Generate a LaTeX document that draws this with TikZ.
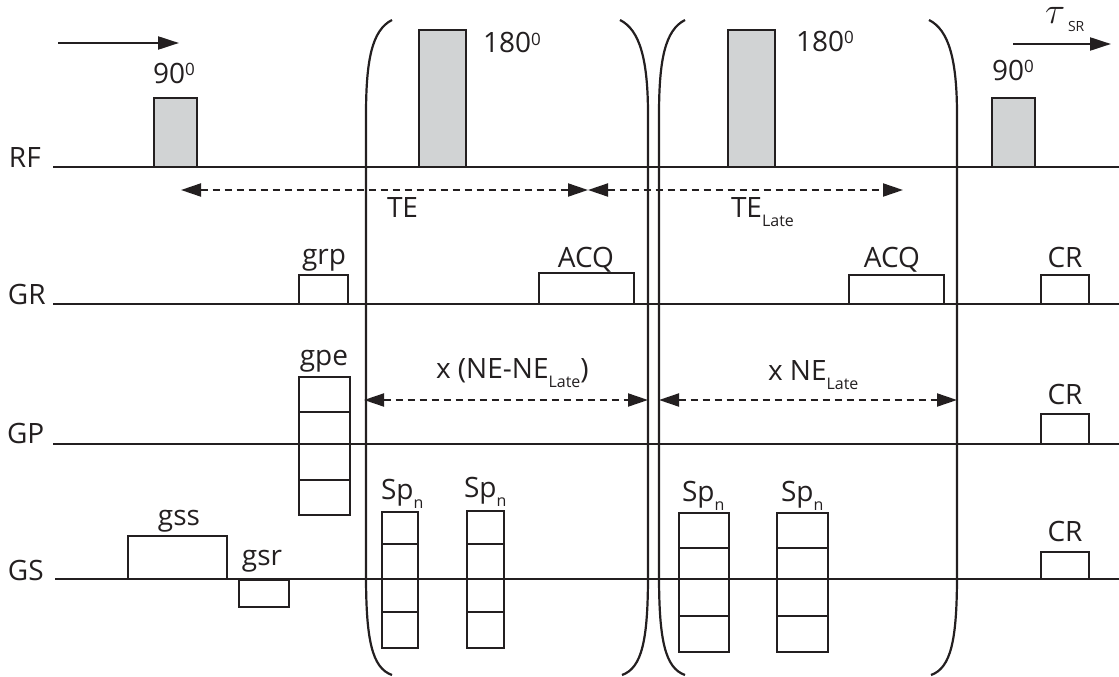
\documentclass[tikz,border=0pt]{standalone}
\usepackage{fontspec}
\setmainfont{Open Sans}
\usetikzlibrary{arrows.meta}
\definecolor{ink}{HTML}{231F20}
\definecolor{pgray}{HTML}{D1D3D4}
\newcommand\lowsub[1]{\raisebox{-9pt}{\fontsize{16}{16}\selectfont #1}}
\newcommand\degsup{\raisebox{8pt}{\fontsize{17}{17}\selectfont 0}}
\begin{document}
\begin{tikzpicture}[x=1pt,y=-1pt,
  every node/.style={inner sep=0pt, outer sep=0pt, text=ink, font=\fontsize{28}{32}\selectfont},
  baseline/.style={draw=ink, line width=2.3pt},
  pulse/.style={draw=ink, fill=pgray, line width=2.6pt, anchor=north west},
  gbox/.style={draw=ink, line width=2.6pt, anchor=north west},
  divider/.style={draw=ink, line width=2.4pt},
  paren/.style={draw=ink, line width=2.2pt},
  lbl/.style={anchor=base west},
  sarrow/.style={draw=ink, line width=2.2pt, -{Triangle[length=21pt,width=13pt]}},
  darrow/.style={draw=ink, line width=2pt, dash pattern=on 7pt off 5pt,
     {Triangle[length=20pt,width=13pt]}-{Triangle[length=20pt,width=13pt]}}
]
\useasboundingbox (0,0) rectangle (1119,677);

% channel baselines
\coordinate (rf0) at (53,167);   \coordinate (rf1) at (1119,167);
\coordinate (gr0) at (53,304);   \coordinate (gr1) at (1119,304);
\coordinate (gp0) at (53,444);   \coordinate (gp1) at (1119,444);
\coordinate (gs0) at (55,579);   \coordinate (gs1) at (1119,579);
\draw[baseline] (rf0) -- (rf1);
\draw[baseline] (gr0) -- (gr1);
\draw[baseline] (gp0) -- (gp1);
\draw[baseline] (gs0) -- (gs1);
\node[lbl] (lrf) at (9,167) {RF};
\node[lbl] (lgr) at (8,304) {GR};
\node[lbl] (lgp) at (7,443) {GP};
\node[lbl] (lgs) at (8,580) {GS};

% parentheses
\draw[paren] (392,20) .. controls (372,30) and (366,60) .. (366,115) -- (366,575) .. controls (366,640) and (372,668) .. (392,675);
\draw[paren] (620,20) .. controls (640,30) and (648,60) .. (648,115) -- (648,575) .. controls (648,640) and (642,668) .. (622,675);
\draw[paren] (685,20) .. controls (665,30) and (659,60) .. (659,115) -- (659,575) .. controls (659,640) and (665,668) .. (685,675);
\draw[paren] (929,20) .. controls (949,30) and (957,60) .. (957,115) -- (957,575) .. controls (957,640) and (951,668) .. (931,675);

% RF pulses
\node[pulse, minimum width=43pt, minimum height=69pt] (p90a) at (154,98) {};
\node[pulse, minimum width=47pt, minimum height=137pt] (p180a) at (419,30) {};
\node[pulse, minimum width=47pt, minimum height=137pt] (p180b) at (728,30) {};
\node[pulse, minimum width=43pt, minimum height=69pt] (p90b) at (992,98) {};
\node[lbl] (t90a) at (153,83) {90\degsup};
\node[lbl] (t180a) at (483,53) {180\degsup};
\node[lbl] (t180b) at (796,52) {180\degsup};
\node[lbl] (t90b) at (992,81) {90\degsup};

% top arrows
\coordinate (a0) at (58,43);  \coordinate (a1) at (179,43);
\draw[sarrow] (a0) -- (a1);
\coordinate (b0) at (1013,44);  \coordinate (b1) at (1111,44);
\draw[sarrow] (b0) -- (b1);
\node[lbl] (tau) at (1045,24) {\scalebox{1.5}{$\tau$}\hspace{3pt}\raisebox{-8pt}{\fontsize{14}{14}\selectfont SR}};

% TE arrows
\coordinate (te0) at (181,190); \coordinate (te1) at (588,190); \coordinate (te2) at (903,190);
\draw[darrow] (te0) -- (te1);
\draw[darrow] (te1) -- (te2);
\node[lbl] (tte) at (387,217) {TE};
\node[lbl] (ttel) at (731,217) {TE\lowsub{Late}};

% GR row
\node[gbox, minimum width=49pt, minimum height=29pt] (grp) at (299,275) {};
\node[anchor=base] (tgrp) at (324,264) {grp};
\node[gbox, minimum width=95pt, minimum height=31pt] (acq1) at (539,273) {};
\node[anchor=base] (tacq1) at (586,267) {ACQ};
\node[gbox, minimum width=95pt, minimum height=29pt] (acq2) at (849,275) {};
\node[anchor=base] (tacq2) at (892,267) {ACQ};
\node[gbox, minimum width=48pt, minimum height=29pt] (crr) at (1041,275) {};
\node[anchor=base] (tcrr) at (1065,267) {CR};

% GP row
\node[gbox, minimum width=51pt, minimum height=138pt] (gpe) at (299,377) {};
\draw[divider] (gpe.west |- 0,412) -- (gpe.east |- 0,412);
\draw[divider] (gpe.west |- 0,444) -- (gpe.east |- 0,444);
\draw[divider] (gpe.west |- 0,480) -- (gpe.east |- 0,480);
\node[anchor=base] (tgpe) at (324,365) {gpe};
\node[gbox, minimum width=48pt, minimum height=30pt] (crp) at (1041,414) {};
\node[anchor=base] (tcrp) at (1065,404) {CR};
\coordinate (ne0) at (364,400); \coordinate (ne1) at (648,400);
\coordinate (ne2) at (659,400); \coordinate (ne3) at (957,400);
\draw[darrow] (ne0) -- (ne1);
\draw[darrow] (ne2) -- (ne3);
\node[lbl] (tne1) at (436,378) {x (NE-NE\lowsub{Late})};
\node[lbl] (tne2) at (768,380) {x NE\lowsub{Late}};

% GS row
\node[gbox, minimum width=99pt, minimum height=43pt] (gss) at (128,536) {};
\node[anchor=base] (tgss) at (179,525) {gss};
\node[gbox, minimum width=50pt, minimum height=27pt] (gsr) at (239,580) {};
\node[anchor=base] (tgsr) at (262,565) {gsr};
\node[gbox, minimum width=48pt, minimum height=27pt] (crs) at (1041,552) {};
\node[anchor=base] (tcrs) at (1065,541) {CR};

\node[gbox, minimum width=36pt, minimum height=136pt] (sp1) at (382,512) {};
\node[gbox, minimum width=37pt, minimum height=137pt] (sp2) at (467,511) {};
\node[gbox, minimum width=50pt, minimum height=139pt] (sp3) at (679,513) {};
\node[gbox, minimum width=51pt, minimum height=139pt] (sp4) at (777,513) {};
\foreach \s/\ya/\yb in {sp1/544/612, sp2/544/612, sp3/548/616, sp4/548/616}{
  \draw[divider] (\s.west |- 0,\ya) -- (\s.east |- 0,\ya);
  \draw[divider] (\s.west |- 0,579) -- (\s.east |- 0,579);
  \draw[divider] (\s.west |- 0,\yb) -- (\s.east |- 0,\yb);
}
\node[lbl] (tsp1) at (381,499) {Sp\lowsub{n}};
\node[lbl] (tsp2) at (464,497) {Sp\lowsub{n}};
\node[lbl] (tsp3) at (682,501) {Sp\lowsub{n}};
\node[lbl] (tsp4) at (781,501) {Sp\lowsub{n}};
\end{tikzpicture}
\end{document}
